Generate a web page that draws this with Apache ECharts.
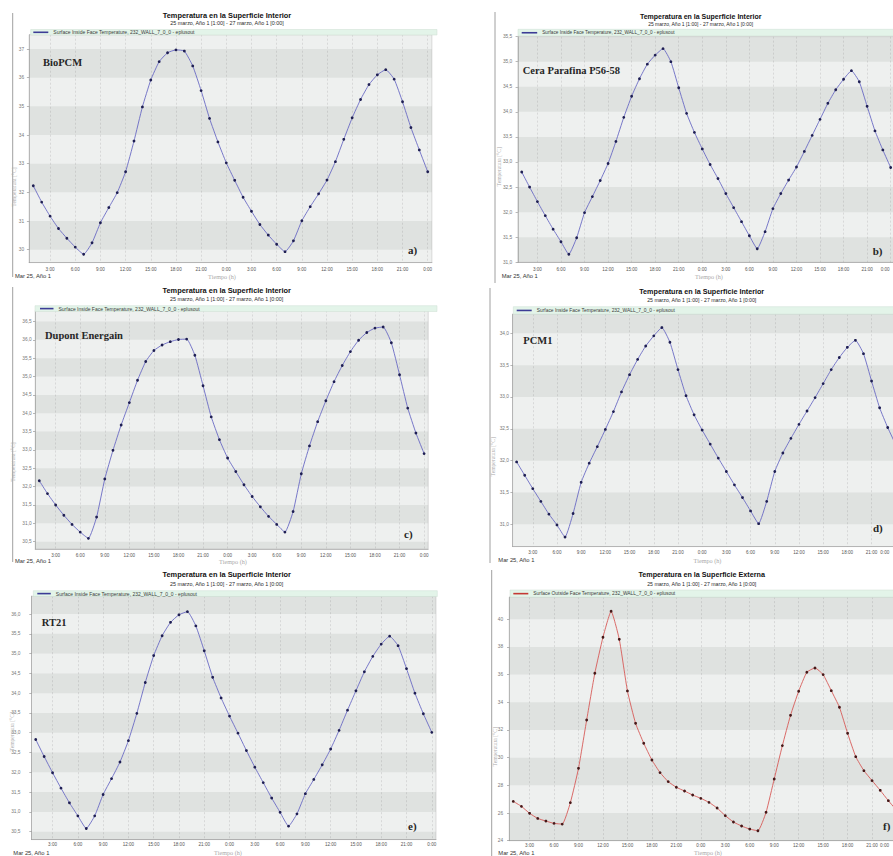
<!DOCTYPE html>
<html><head><meta charset="utf-8">
<script src="https://cdn.jsdelivr.net/npm/echarts@6/dist/echarts.min.js"></script>
<style>
html,body{margin:0;padding:0;width:893px;height:856px;overflow:hidden;background:#fff;position:relative;}
.p{position:absolute;}
</style></head><body>
<div id="pa" class="p"></div><div id="pb" class="p"></div>
<div id="pc" class="p"></div><div id="pd" class="p"></div>
<div id="pe" class="p"></div><div id="pf" class="p"></div>
<script>
// ---- data ----
const hours = ["1:00","2:00","3:00","4:00","5:00","6:00","7:00","8:00","9:00","10:00","11:00","12:00",
 "13:00","14:00","15:00","16:00","17:00","18:00","19:00","20:00","21:00","22:00","23:00","0:00",
 "1:00","2:00","3:00","4:00","5:00","6:00","7:00","8:00","9:00","10:00","11:00","12:00",
 "13:00","14:00","15:00","16:00","17:00","18:00","19:00","20:00","21:00","22:00","23:00","0:00"];
const xLabelHours = [3,6,9,12,15,18,21,0];
const bioPCM = [32.23,31.66,31.17,30.74,30.40,30.09,29.84,30.24,30.94,31.47,31.99,32.72,33.79,34.98,35.92,36.56,36.87,36.97,36.93,36.41,35.55,34.58,33.76,33.03,
 32.42,31.83,31.34,30.88,30.51,30.19,29.93,30.31,31.01,31.50,31.95,32.43,33.07,33.85,34.60,35.24,35.76,36.10,36.28,35.95,35.16,34.26,33.48,32.72];
const ceraParafina = [32.80,32.50,32.21,31.93,31.66,31.41,31.16,31.49,31.99,32.31,32.63,32.97,33.41,33.89,34.31,34.66,34.95,35.13,35.26,35.00,34.48,33.97,33.59,33.26,
 32.95,32.67,32.37,32.09,31.81,31.53,31.27,31.61,32.07,32.37,32.64,32.90,33.21,33.53,33.85,34.17,34.44,34.65,34.82,34.60,34.11,33.62,33.24,32.89];
const dupontEnergain = [32.16,31.81,31.50,31.22,30.97,30.76,30.59,31.17,32.21,32.99,33.68,34.29,34.90,35.41,35.71,35.86,35.95,36.01,36.02,35.58,34.75,33.90,33.28,32.78,
 32.41,32.05,31.73,31.45,31.19,30.97,30.76,31.32,32.35,33.11,33.77,34.34,34.86,35.30,35.68,35.99,36.20,36.32,36.35,35.92,35.05,34.14,33.46,32.90];
const pcm1 = [31.98,31.77,31.56,31.36,31.16,30.99,30.80,31.17,31.66,31.96,32.22,32.49,32.77,33.08,33.35,33.59,33.80,33.96,34.09,33.86,33.43,33.02,32.72,32.48,
 32.26,32.04,31.83,31.62,31.42,31.21,31.01,31.36,31.83,32.12,32.35,32.57,32.78,32.99,33.21,33.43,33.62,33.78,33.89,33.68,33.25,32.83,32.52,32.25];
const rt21 = [32.83,32.40,31.99,31.60,31.23,30.90,30.58,30.90,31.44,31.84,32.26,32.80,33.49,34.27,34.95,35.45,35.79,35.98,36.06,35.70,35.07,34.40,33.88,33.42,
 32.99,32.55,32.13,31.74,31.35,30.99,30.64,30.95,31.46,31.82,32.19,32.59,33.06,33.57,34.06,34.54,34.93,35.24,35.44,35.20,34.62,34.00,33.48,33.01];
const externa = [26.84,26.48,25.98,25.61,25.42,25.25,25.20,26.75,29.23,32.72,36.10,38.70,40.58,38.55,34.82,32.48,31.04,29.83,28.92,28.27,27.86,27.59,27.30,27.06,
 26.77,26.36,25.81,25.35,25.06,24.84,24.72,26.05,28.46,30.87,33.06,34.80,36.17,36.48,36.00,34.84,33.64,31.76,30.07,29.06,28.34,27.64,26.89,26.20];

// ---- texts ----
const titleInterior = "Temperatura en la Superficie Interior";
const titleExterior = "Temperatura en la Superficie Externa";
const subtitleText = "25 marzo, Año 1 [1:00] - 27 marzo, Año 1 [0:00]";
const legendInside = "Surface Inside Face Temperature, 232_WALL_7_0_0 - eplusout";
const legendOutside = "Surface Outside Face Temperature, 232_WALL_7_0_0 - eplusout";
const startLabel = "Mar 25, Año 1";
const xName = "Tiempo (h)";
const yName = "Temperatura [°C]";

// ---- styling ----
const LIGHT = '#eef0ef', DARK_OVER = 'rgba(70,80,75,0.085)';
const BLUE = {line:'#6a6ac4', dot:'#1e1e52', leg:'#3c3c96'};
const RED = {line:'#d75a58', dot:'#451818', leg:'#c43a34'};

const panels = [
 {id:'pa', ox:0, oy:0, w:447, h:285, data:bioPCM, title:titleInterior, legendName:legendInside, material:'BioPCM', letter:'a)', col:BLUE,
  tx:227, ty:12.3, tfs:7.4, sfs:5.4, tgap:1.6, strip:[30.7,29.5,406.3,5.5], lx:33.3, ly:32.3, liw:15, lfs:5.0,
  gl:29.1, gw:402.8, gt:34.7, gb:262.6, yMin:29.55, yMax:37.5, step:0.05, labelStep:1, dec:0,
  mx:43, my:62, ltx:408, lty:250, marx:15, mary:276, tix:222, tiy:276, ynx:14, yny:187, border:[12.7,13,277], xlm:4.2, ylm:5, alignMax:false, lastPad:0},
 {id:'pb', ox:447, oy:0, w:460, h:285, data:ceraParafina, title:titleInterior, legendName:legendInside, material:'Cera Parafina P56-58', letter:'b)', col:BLUE,
  tx:700.7, ty:12.5, tfs:7.0, sfs:5.0, tgap:2, strip:[518,29.3,400,6.7], lx:521.7, ly:32.6, liw:15.5, lfs:4.7,
  gl:517.8, gw:376.8, gt:36.6, gb:262.3, yMin:31, yMax:35.5, step:0.5, labelStep:0.5, dec:1,
  mx:522.7, my:70, ltx:872.7, lty:250.7, marx:501.7, mary:276, tix:709, tiy:276, ynx:499.3, yny:166.7, border:[495,12,283], xlm:5, ylm:5.5, alignMax:true, lastPad:1},
 {id:'pc', ox:0, oy:285, w:447, h:285, data:dupontEnergain, title:titleInterior, legendName:legendInside, material:'Dupont Energain', letter:'c)', col:BLUE,
  tx:226.7, ty:287, tfs:7.4, sfs:5.4, tgap:2.8, strip:[35,305.7,402,5.8], lx:40, ly:308.6, liw:13.5, lfs:5.0,
  gl:35.2, gw:393, gt:310.5, gb:549.0, yMin:30.3, yMax:36.8, step:0.05, labelStep:0.5, dec:1,
  mx:45, my:335, ltx:404, lty:534, marx:15, mary:561, tix:233, tiy:561, ynx:13, yny:462, border:[12.7,287,562], xlm:3.7, ylm:3.5, alignMax:false, lastPad:0},
 {id:'pd', ox:447, oy:285, w:460, h:285, data:pcm1, title:titleInterior, legendName:legendInside, material:'PCM1', letter:'d)', col:BLUE,
  tx:701.7, ty:288.1, tfs:7.2, sfs:5.2, tgap:2.1, strip:[513.3,306.7,400,7.5], lx:516.7, ly:310.4, liw:15, lfs:4.9,
  gl:512.6, gw:387.2, gt:314.2, gb:546.6, yMin:30.65, yMax:34.3, step:0.05, labelStep:0.5, dec:1,
  mx:523.3, my:340, ltx:873, lty:527.7, marx:498.3, mary:560, tix:707.5, tiy:560, ynx:492.7, yny:456.7, border:[490,288,563], xlm:3.2, ylm:3.6, alignMax:true, lastPad:6.5},
 {id:'pe', ox:0, oy:570, w:447, h:286, data:rt21, title:titleInterior, legendName:legendInside, material:'RT21', letter:'e)', col:BLUE,
  tx:226.7, ty:571.3, tfs:7.4, sfs:5.4, tgap:3.4, strip:[33.3,590.7,404,5.8], lx:37.3, ly:593.6, liw:13.5, lfs:5.0,
  gl:31.5, gw:404.5, gt:596.2, gb:839.6, yMin:30.3, yMax:36.45, step:0.05, labelStep:0.5, dec:1,
  mx:41.7, my:622.7, ltx:408, lty:826, marx:13.3, mary:852.5, tix:228, tiy:852.5, ynx:11.7, yny:731.7, border:null, xlm:2.8, ylm:11, alignMax:false, lastPad:0},
 {id:'pf', ox:447, oy:570, w:460, h:286, data:externa, title:titleExterior, legendName:legendOutside, material:null, letter:'f)', col:RED,
  tx:701.7, ty:571.4, tfs:7.2, sfs:5.2, tgap:3.1, strip:[510,590,400,7.2], lx:513.3, ly:593.6, liw:15, lfs:4.9,
  gl:509.2, gw:391.4, gt:597.1, gb:840.7, yMin:24, yMax:41.6, step:0.1, labelStep:2, dec:0,
  mx:0, my:0, ltx:883, lty:826, marx:498.3, mary:852.8, tix:708, tiy:852.8, ynx:495, yny:746.7, border:[491.7,570,856], xlm:2.6, ylm:6, alignMax:true, lastPad:7.5}
];

function txt(text, x, y, font, fill, align, extra) {
  return Object.assign({type:'text', x:x, y:y, z:100, silent:true,
    style:{text:text, font:font, fill:fill, align:align||'left', textAlign:align||'left', verticalAlign:'middle', textVerticalAlign:'middle'}}, extra||{});
}

function build(c) {
  const el = document.getElementById(c.id);
  el.style.left = c.ox + 'px'; el.style.top = c.oy + 'px';
  el.style.width = c.w + 'px'; el.style.height = c.h + 'px';
  const chart = echarts.init(el, null, {renderer:'svg'});
  const X = v => v - c.ox, Y = v => v - c.oy;
  // alternating horizontal bands between labelled ticks (drawn through the y scale)
  const bands = [];
  const k0 = Math.floor(c.yMin / c.labelStep + 1e-6), k1 = Math.ceil(c.yMax / c.labelStep - 1e-6);
  for (let k = k0; k < k1; k++) {
    if (k % 2 !== 0) continue;
    const lo = Math.max(k * c.labelStep, c.yMin), hi = Math.min((k + 1) * c.labelStep, c.yMax);
    bands.push([{yAxis: +lo.toFixed(4)}, {yAxis: +hi.toFixed(4)}]);
  }
  const yLabelVals = [];
  for (let k = Math.ceil(c.yMin / c.labelStep - 1e-6); k * c.labelStep <= c.yMax + 1e-9; k++) yLabelVals.push(+(k * c.labelStep).toFixed(4));
  const isLabel = v => Math.abs(v / c.labelStep - Math.round(v / c.labelStep)) < 1e-6;
  const fmt = v => isLabel(v) ? v.toFixed(c.dec).replace('.', ',') : '';
  const showX = (i, v) => xLabelHours.indexOf(parseInt(String(v).split(':')[0], 10)) >= 0;
  const lastIdx = hours.length - 1;
  const xFmt = (v, i) => (c.lastPad && i === lastIdx) ? '{e|' + v + '}' : v;

  const g = [];
  g.push({type:'rect', z:3, silent:true, shape:{x:X(c.strip[0]), y:Y(c.strip[1]), width:c.strip[2], height:c.strip[3]},
          style:{fill:'#e3f4e9', stroke:'#cddfd2', lineWidth:0.5}});
  if (c.border) g.push({type:'line', z:100, silent:true, shape:{x1:X(c.border[0]), y1:Y(c.border[1]), x2:X(c.border[0]), y2:Y(c.border[2])},
          style:{stroke:'#a0a0a0', lineWidth:1}});
  if (c.material) g.push(txt(c.material, X(c.mx), Y(c.my), 'bold 10.5px "Liberation Serif"', '#262626', 'left'));
  g.push(txt(c.letter, X(c.ltx), Y(c.lty), 'bold 11px "Liberation Serif"', '#262626', 'left'));
  g.push(txt(startLabel, X(c.marx), Y(c.mary), '5.8px "Liberation Sans"', '#333', 'left'));
  g.push(txt(xName, X(c.tix), Y(c.tiy), '6.2px "Liberation Serif"', '#aaaaaa', 'center'));
  g.push(txt(yName, X(c.ynx), Y(c.yny), '5.6px "Liberation Serif"', '#aaaaaa', 'center', {rotation: Math.PI / 2}));

  const option = {
    animation:false,
    title:[{text:c.title, subtext:subtitleText, left:X(c.tx), top:Y(c.ty), textAlign:'center', padding:0, itemGap:c.tgap,
      textStyle:{fontFamily:'Liberation Sans', fontSize:c.tfs, fontWeight:'bold', color:'#111'},
      subtextStyle:{fontFamily:'Liberation Sans', fontSize:c.sfs, color:'#2a2a2a'}}],
    legend:{left:X(c.lx), top:Y(c.ly) - c.lfs / 2, padding:0, icon:'rect', itemWidth:c.liw, itemHeight:1.6, selectedMode:false,
      itemStyle:{color:c.col.leg}, textStyle:{fontFamily:'Liberation Sans', fontSize:c.lfs, color:'#3a3a3a'}, data:[c.legendName]},
    grid:{left:X(c.gl), top:Y(c.gt), width:c.gw, height:c.gb - c.gt, show:true, backgroundColor:LIGHT, borderColor:'#c6c6c6', borderWidth:0.6},
    xAxis:{type:'category', data:hours, boundaryGap:true,
      axisLine:{lineStyle:{color:'#9a9a9a', width:0.6}},
      axisTick:{alignWithLabel:true, interval:0, length:1.8, lineStyle:{color:'#8a8a8a', width:0.6}},
      axisLabel:{interval:showX, formatter:xFmt, fontFamily:'Liberation Sans', fontSize:4.6, color:'#555', margin:c.xlm,
        alignMaxLabel: c.alignMax ? 'right' : null,
        rich:{e:{fontFamily:'Liberation Sans', fontSize:4.6, color:'#555', padding:[0, c.lastPad, 0, 0]}}},
      splitLine:{show:true, alignWithLabel:true, interval:showX, lineStyle:{color:'#c8c8c8', width:0.6, type:[2,2]}}},
    yAxis:{type:'value', min:c.yMin, max:c.yMax, interval:c.step,
      axisLine:{show:true, lineStyle:{color:'#9a9a9a', width:0.6}},
      axisTick:{show:true, customValues:yLabelVals, length:2.2, lineStyle:{color:'#888', width:0.6}},
      axisLabel:{customValues:yLabelVals, formatter:fmt, fontFamily:'Liberation Sans', fontSize:4.8, color:'#777', margin:c.ylm},
      splitLine:{show:false}, splitArea:{show:false}},
    series:[{type:'line', name:c.legendName, data:c.data, symbol:'circle', symbolSize:2.8, smooth:0.15,
      lineStyle:{color:c.col.line, width:0.9}, itemStyle:{color:c.col.dot}, emphasis:{disabled:true},
      markArea:{silent:true, itemStyle:{color:DARK_OVER}, label:{show:false}, data:bands}}],
    graphic:g
  };
  chart.setOption(option);
}
panels.forEach(build);
</script>
</body></html>
